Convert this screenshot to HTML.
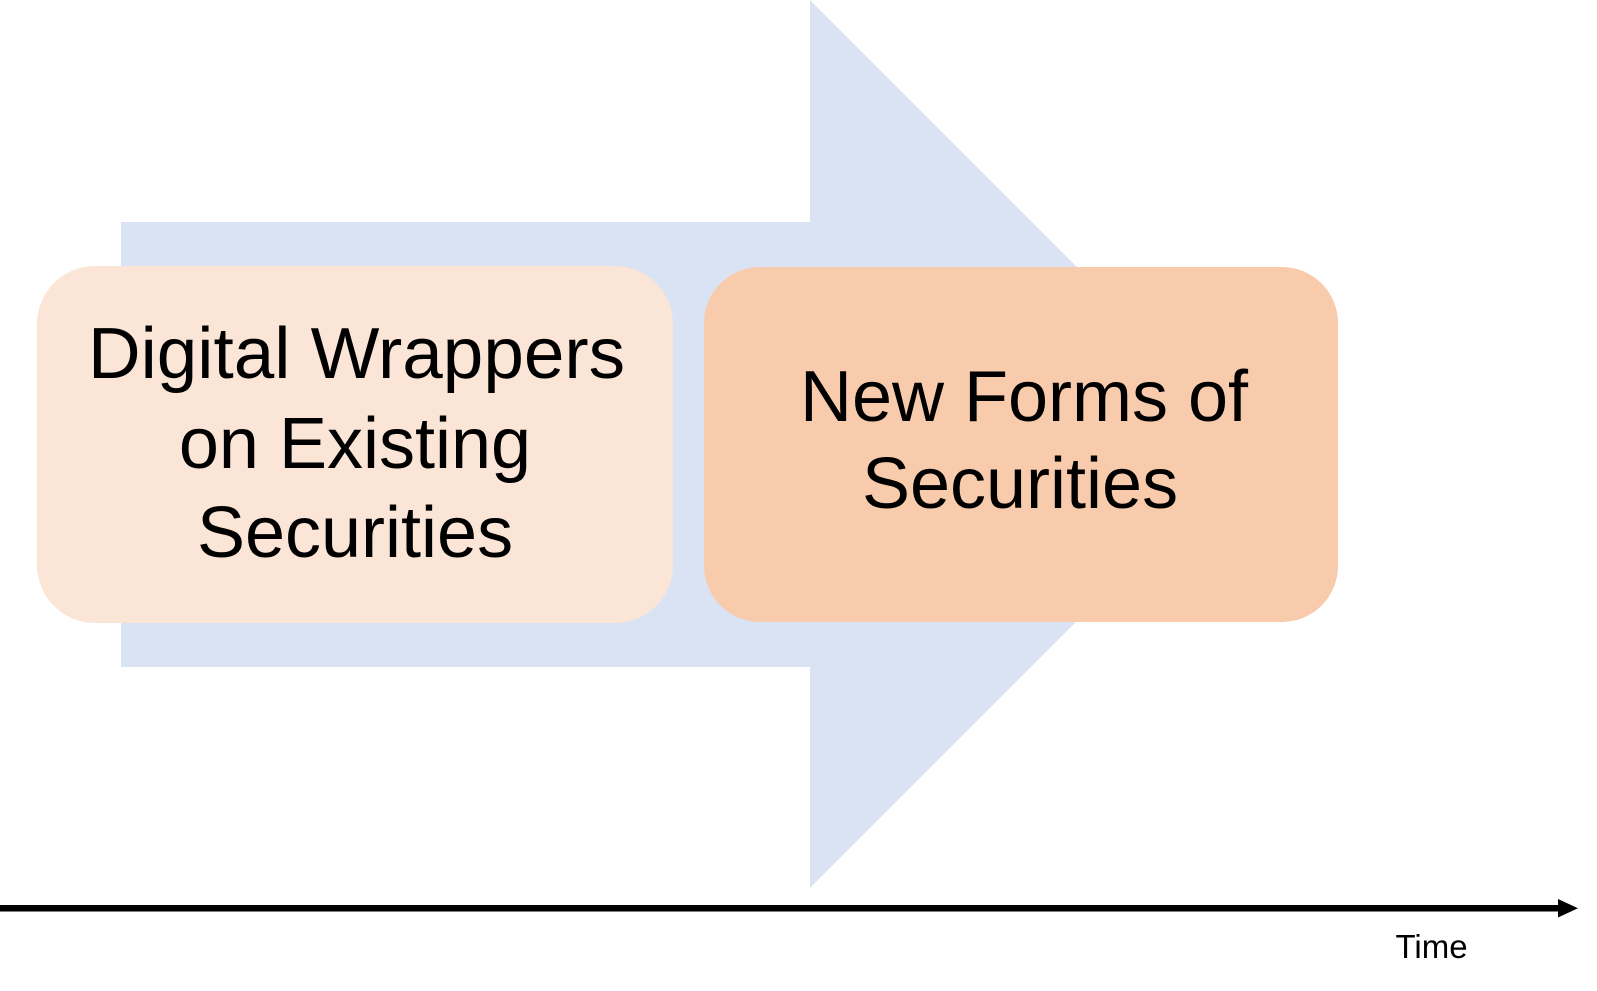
<!DOCTYPE html>
<html>
<head>
<meta charset="utf-8">
<style>
html,body{margin:0;padding:0;background:#ffffff;}
body{width:1597px;height:991px;overflow:hidden;}
svg{display:block;}
text{font-family:"Liberation Sans",sans-serif;fill:#000;}
</style>
</head>
<body>
<svg width="1597" height="991" viewBox="0 0 1597 991" xmlns="http://www.w3.org/2000/svg">
  <rect x="0" y="0" width="1597" height="991" fill="#ffffff"/>
  <!-- big background arrow -->
  <polygon points="121,222 810,222 810,0 1254,444 810,888 810,667 121,667" fill="#DAE3F3"/>
  <!-- left box -->
  <rect x="37" y="266" width="636" height="357" rx="58" ry="58" fill="#FBE5D6"/>
  <!-- right box -->
  <rect x="704" y="267" width="634" height="355" rx="56" ry="56" fill="#F8CBAD"/>
  <!-- left text -->
  <text x="356.5" y="378" font-size="72" text-anchor="middle" textLength="537" lengthAdjust="spacingAndGlyphs">Digital Wrappers</text>
  <text x="355" y="468" font-size="72" text-anchor="middle">on Existing</text>
  <text x="355" y="557" font-size="72" text-anchor="middle">Securities</text>
  <!-- right text -->
  <text x="1024" y="421" font-size="72" text-anchor="middle">New Forms of</text>
  <text x="1020" y="508" font-size="72" text-anchor="middle">Securities</text>
  <!-- timeline -->
  <rect x="0" y="905" width="1562" height="6.5" fill="#000"/>
  <polygon points="1558,899 1578,908.2 1558,917.5" fill="#000"/>
  <text x="1431.5" y="958" font-size="33" text-anchor="middle">Time</text>
</svg>
</body>
</html>
